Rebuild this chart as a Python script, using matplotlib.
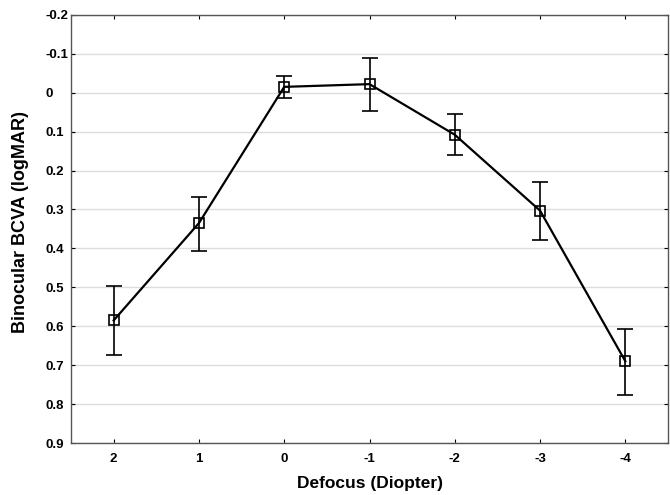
import numpy as np
import matplotlib
matplotlib.use('Agg')
import matplotlib.pyplot as plt

# Defocus curve data
defocus = ['2', '1', '0', '-1', '-2', '-3', '-4']
bcva = [0.585, 0.335, -0.015, -0.022, 0.108, 0.303, 0.690]
err_low = [0.496, 0.267, -0.044, -0.089, 0.055, 0.229, 0.607]
err_high = [0.673, 0.406, 0.014, 0.046, 0.161, 0.378, 0.776]
yticks = [-0.2, -0.1, 0, 0.1, 0.2, 0.3, 0.4, 0.5, 0.6, 0.7, 0.8, 0.9]

plt.rcParams['font.family'] = ['Liberation Sans', 'DejaVu Sans']
plt.rcParams['font.weight'] = 'bold'

x = np.arange(len(defocus))
y = np.array(bcva)
yerr = np.vstack([y - np.array(err_low), np.array(err_high) - y])

fig = plt.figure(figsize=(6.7, 4.95), dpi=100)
ax = fig.add_axes([0.106, 0.105, 0.891, 0.865])

ax.errorbar(x, y, yerr=yerr, fmt='none', ecolor='black', elinewidth=1.2,
            capsize=6, capthick=1.2, zorder=3)
ax.plot(x, y, color='black', lw=1.6, marker='s', markersize=6.5,
        markerfacecolor='none', markeredgecolor='black', markeredgewidth=1.2,
        zorder=4)

ax.set_xlim(-0.5, len(defocus) - 0.5)
ax.set_ylim(0.9, -0.2)
ax.set_xticks(x)
ax.set_xticklabels(defocus)
ax.set_yticks(yticks)
ax.set_yticklabels(['%g' % v if v != 0 else '0' for v in yticks])
ax.grid(axis='y', color='#dcdcdc', lw=1.0)
ax.set_axisbelow(True)
ax.tick_params(direction='in', length=3, width=0.8, labelsize=9.5,
               top=True, right=True)
ax.tick_params(axis='x', pad=7)
ax.tick_params(axis='y', pad=18.7)
for lab in ax.get_yticklabels():
    lab.set_horizontalalignment('left')
for s in ax.spines.values():
    s.set_color('#555555')
    s.set_linewidth(1.0)

ax.set_xlabel('Defocus (Diopter)', fontsize=12.5, fontweight='bold', labelpad=8)
ax.set_ylabel('Binocular BCVA (logMAR)', fontsize=13, fontweight='bold')
ax.yaxis.set_label_coords(-0.071, 0.516)

fig.savefig('out.png', dpi=100)
